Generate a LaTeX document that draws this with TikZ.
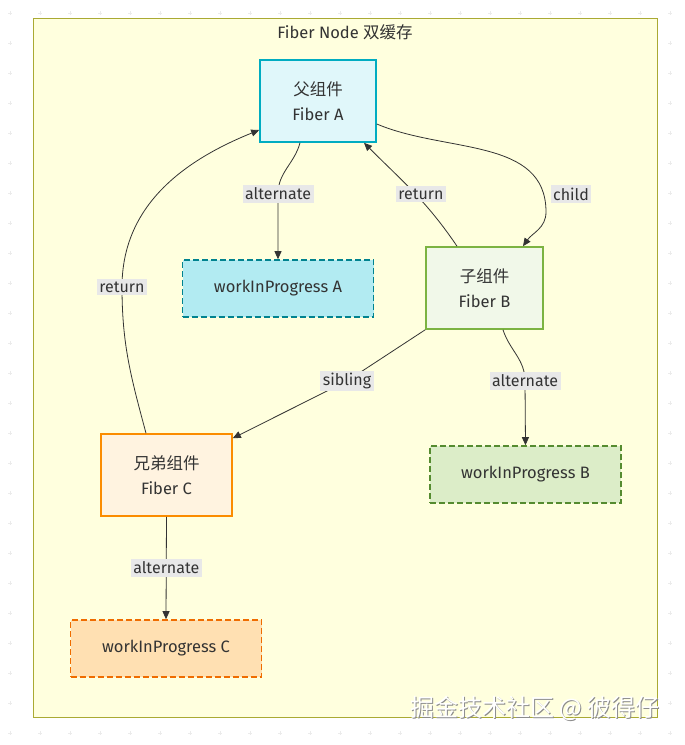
\documentclass[tikz,border=0pt]{standalone}
\usepackage{fontspec}
\setmainfont{Fira Sans}
\newfontfamily\cjk{Noto Sans CJK SC}
\usepackage{tikz}
\usetikzlibrary{arrows.meta}
\usepackage{xcolor}

\definecolor{textgray}{HTML}{333333}
\definecolor{linegray}{HTML}{333333}
\definecolor{labelgray}{HTML}{E8E8E8}
\definecolor{dotgray}{HTML}{EBEBEB}
\definecolor{clusterfill}{HTML}{FFFFDE}
\definecolor{clusterline}{HTML}{AAAA33}
\definecolor{afill}{HTML}{E0F7FA}
\definecolor{aline}{HTML}{00ACC1}
\definecolor{wafill}{HTML}{B2EBF2}
\definecolor{waline}{HTML}{00838F}
\definecolor{bfill}{HTML}{F1F8E9}
\definecolor{bline}{HTML}{7CB342}
\definecolor{wbfill}{HTML}{DCEDC8}
\definecolor{wbline}{HTML}{558B2F}
\definecolor{cfill}{HTML}{FFF3E0}
\definecolor{cline}{HTML}{FB8C00}
\definecolor{wcfill}{HTML}{FFE0B2}
\definecolor{wcline}{HTML}{EF6C00}

\begin{document}
\begin{tikzpicture}[x=1pt, y=1pt,
  every node/.style = {font=\fontsize{16.5}{25}\selectfont, text=textgray, align=center},
  fiber/.style = {draw, line width=1.6pt, minimum width=116pt, minimum height=82pt, inner sep=0pt},
  wip/.style = {draw, line width=1.6pt, dash pattern=on 6pt off 3pt, minimum width=191pt, minimum height=57pt, inner sep=0pt},
  lbl/.style = {fill=labelgray, inner sep=2.5pt, font=\fontsize{16}{18}\selectfont},
  edge/.style = {draw=linegray, line width=0.8pt, -{Triangle[length=8pt, width=7pt]}}]

\useasboundingbox (0,0) rectangle (685,-745);

% background marks
\foreach \x in {10,40,...,680}
  \foreach \y in {13,43,...,733}
    \draw[dotgray, line width=0.5pt] (\x-2,-\y) -- (\x+2,-\y) (\x,-\y-2) -- (\x,-\y+2);

\draw[draw=clusterline, fill=clusterfill, line width=0.8pt] (33,-18) rectangle (657,-717);
\node (title) at (345,-32) {Fiber Node {\cjk 双缓存}};

\node[fiber, fill=afill, draw=aline] (fibA) at (318,-101) {{\cjk 父组件}\\Fiber A};
\node[wip, fill=wafill, draw=waline] (wipA) at (278,-288.5) {workInProgress A};
\node[fiber, fill=bfill, draw=bline, minimum width=117pt] (fibB) at (484.5,-288) {{\cjk 子组件}\\Fiber B};
\node[wip, fill=wbfill, draw=wbline] (wipB) at (525.5,-474.5) {workInProgress B};
\node[fiber, fill=cfill, draw=cline, minimum width=131pt] (fibC) at (166.5,-475) {{\cjk 兄弟组件}\\Fiber C};
\node[wip, fill=wcfill, draw=wcline] (wipC) at (166,-648.5) {workInProgress C};

\draw[edge] ([xshift=-18pt]fibA.south) to[out=-105, in=90] (278,-194) node[lbl] {alternate} -- (wipA.north);
\draw[edge] ([yshift=-23pt]fibA.east) to[out=-23, in=90] (546,-212) to[out=-90, in=55] ([xshift=38.5pt]fibB.north);
\node[lbl] (lblchild) at (571,-194) {child};
\draw[edge] ([xshift=-27.5pt]fibB.north) to[out=124, in=-45] ([xshift=46pt]fibA.south);
\node[lbl] (lblreturnB) at (421,-194) {return};
\draw[edge] (fibB.south west) -- (347,-381) node[lbl] {sibling} -- ([yshift=-5pt]fibC.north east);
\draw[edge] ([xshift=18.5pt]fibB.south) to[out=-72, in=90] (525,-381) node[lbl] {alternate} -- (wipB.north);
\draw[edge] ([xshift=-20.5pt]fibC.north) to[out=105, in=-90] (122,-287) node[lbl] {return} to[out=90, in=-158] ([yshift=-29pt]fibA.west);
\draw[edge] (fibC.south) -- node[lbl] {alternate} (wipC.north);

% watermark
\node[text=black!45, font=\cjk\fontsize{24}{26}\selectfont] (markshadow) at (536,-709) {掘金技术社区 @ 彼得仔};
\node[text=white, font=\cjk\fontsize{24}{26}\selectfont] (mark) at (535,-708) {掘金技术社区 @ 彼得仔};
\end{tikzpicture}
\end{document}
